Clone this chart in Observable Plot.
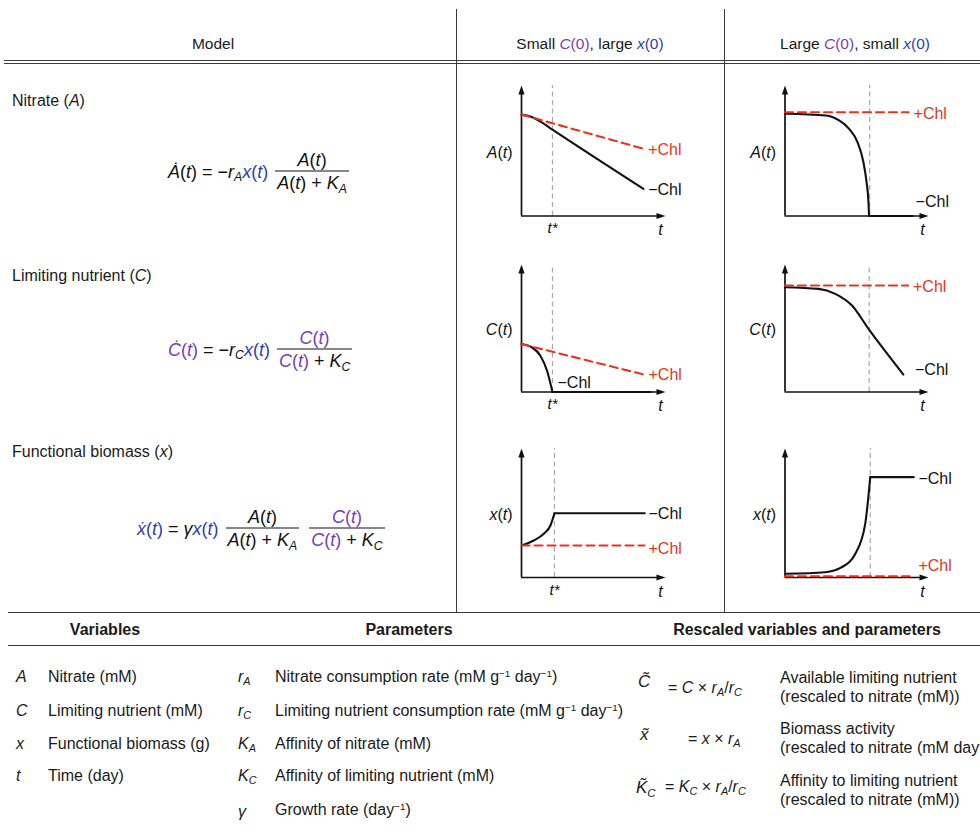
<!DOCTYPE html>
<html><head><meta charset="utf-8">
<script src="https://cdn.jsdelivr.net/npm/d3@7"></script>
<script src="https://cdn.jsdelivr.net/npm/@observablehq/plot@0.6"></script>
<style>
body{margin:0;background:#fff}
#fig{position:relative;width:980px;height:831px;overflow:hidden;font-family:"Liberation Sans",Arial,Helvetica,sans-serif;font-size:16px;color:#1a1a1a}
.t{position:absolute;white-space:nowrap;line-height:20px}
.hl{position:absolute;background:#3a3a3a;height:1.3px}
.vl{position:absolute;background:#3a3a3a;width:1.3px}
.eq{position:absolute;display:flex;align-items:center;font-size:18px;white-space:nowrap;line-height:22px;color:#111}
.frac{display:inline-flex;flex-direction:column;align-items:stretch;text-align:center;margin-left:7px}
.frac>span{padding:0 2px}
.frac>span:first-child{border-bottom:1.6px solid #111}
sub{font-size:0.68em;position:relative;top:0.32em;vertical-align:baseline;font-style:italic;line-height:0}
sup{font-size:0.62em;position:relative;top:-0.5em;vertical-align:baseline;line-height:0}
.pu{color:#7a3db5}.bl{color:#2f3fb1}
.panel{position:absolute}
.b{font-weight:bold}
</style>
</head><body>
<div id="fig"></div>
<script>
// ---------- data ----------
const columnHeaders = ["Model", "Small", "Large"];
const rowTitles = ["Nitrate", "Limiting nutrient", "Functional biomass"];
const rowSymbols = ["A", "C", "x"];

// curves read off the sketches: [t, value] on a 0–100 axis frame
// column "Small C(0), large x(0)"
const nitrateSmallNoChl = [[0,77.7],[6.3,76.2],[13.2,72.3],[21.5,66.2],[84.7,20.8]];
const nitrateSmallChl = [[0,77.7],[84.7,51.5]];
const limitingSmallNoChlDecline = [[0,37.6],[7.4,34.9],[13.2,28.3],[17.8,16.5],[21.5,0]];
const limitingSmallNoChlFloor = [[21.5,0],[89.6,0]];
const limitingSmallChl = [[0,37.6],[86.1,13.4]];
const biomassSmallNoChlRise = [[0.5,25],[8.5,28.7],[15.5,33.9],[20.1,40.3],[22.9,49.8]];
const biomassSmallNoChlPlateau = [[22.9,49.8],[85.6,49.8]];
const biomassSmallChl = [[0,24.8],[85.4,24.8]];
// column "Large C(0), small x(0)"
const nitrateLargeNoChlDecline = [[0,78.3],[28.5,77.0],[37.7,73.2],[44.7,66.8],[50.5,56.6],[54.4,42.5],[56.7,27.2],[58.1,11.9],[58.6,0]];
const nitrateLargeNoChlFloor = [[58.6,0],[88.9,0]];
const nitrateLargeChl = [[0,79.5],[86.1,79.5]];
const limitingLargeNoChl = [[0,82.2],[23.4,80.9],[35,77],[46.7,67.8],[58.2,49.5],[82.5,13.7]];
const limitingLargeChl = [[0,83.5],[85.8,83.5]];
const biomassLargeNoChlRise = [[0.5,2.9],[28,4.1],[39.6,8],[49,18.4],[55.9,41.6],[59.4,77.8]];
const biomassLargeNoChlPlateau = [[59.4,77.8],[89.7,77.8]];
const biomassLargeChl = [[0,1.0],[86.9,1.0]];

// switch times t* (dashed grey)
const tStarSmall = [21.5, 21.5, 22.9];
const tStarLarge = [59, 58.7, 59.4];

// curve labels [t, value, text]
const labelsSmall = [
  [[88,50.8,"+Chl"],[88,20,"\u2212Chl"]],
  [[88.2,13.4,"+Chl"],[25,7.1,"\u2212Chl"]],
  [[88.2,49.6,"\u2212Chl"],[88.2,22.5,"+Chl"]]
];
const labelsLarge = [
  [[89.6,78.5,"+Chl"],[91,11,"\u2212Chl"]],
  [[89.2,82.7,"+Chl"],[90.6,17.6,"\u2212Chl"]],
  [[93,76.7,"\u2212Chl"],[93,9.3,"+Chl"]]
];

const variables = [["A","Nitrate (mM)"],["C","Limiting nutrient (mM)"],["x","Functional biomass (g)"],["t","Time (day)"]];
const parameters = [
  ["r","A","Nitrate consumption rate (mM g<sup>\u22121</sup> day<sup>\u22121</sup>)"],
  ["r","C","Limiting nutrient consumption rate (mM g<sup>\u22121</sup> day<sup>\u22121</sup>)"],
  ["K","A","Affinity of nitrate (mM)"],
  ["K","C","Affinity of limiting nutrient (mM)"],
  ["\u03b3","","Growth rate (day<sup>\u22121</sup>)"]
];
const rescaled = [
  ["C","","= <i>C</i> \u00d7 <i>r<sub>A</sub></i>/<i>r<sub>C</sub></i>",["Available limiting nutrient","(rescaled to nitrate (mM))"]],
  ["x","","= <i>x</i> \u00d7 <i>r<sub>A</sub></i>",["Biomass activity","(rescaled to nitrate (mM day<sup>\u22121</sup>))"]],
  ["K","C","= <i>K<sub>C</sub></i> \u00d7 <i>r<sub>A</sub></i>/<i>r<sub>C</sub></i>",["Affinity to limiting nutrient","(rescaled to nitrate (mM))"]]
];

const RED = "#e8341c";
const fig = document.getElementById("fig");

function put(html, x, y, align = "left", cls = "t", extra = "") {
  const d = document.createElement("div");
  d.className = cls;
  d.innerHTML = html;
  const tx = align === "center" ? "-50%" : align === "right" ? "-100%" : "0";
  d.style.cssText += `left:${x}px;top:${y}px;transform:translate(${tx},-50%);${extra}`;
  fig.appendChild(d);
  return d;
}
function hline(x, y, w) { const d = document.createElement("div"); d.className = "hl"; d.style.left = x + "px"; d.style.top = y + "px"; d.style.width = w + "px"; fig.appendChild(d); }
function vline(x, y, h) { const d = document.createElement("div"); d.className = "vl"; d.style.left = x + "px"; d.style.top = y + "px"; d.style.height = h + "px"; fig.appendChild(d); }

// ---------- table frame ----------
vline(455.5, 9, 603);
vline(723.5, 9, 603);
hline(4, 60, 976);
hline(4, 63.2, 976);
hline(8, 612, 972);
hline(8, 645, 972);

put(columnHeaders[0], 213, 44, "center", "t", "font-size:15.5px");
put(`${columnHeaders[1]} <span class="pu"><i>C</i>(0)</span>, large <span class="bl"><i>x</i>(0)</span>`, 590, 44, "center", "t", "font-size:15.5px");
put(`${columnHeaders[2]} <span class="pu"><i>C</i>(0)</span>, small <span class="bl"><i>x</i>(0)</span>`, 855, 44, "center", "t", "font-size:15.5px");

put(`${rowTitles[0]} (<i>${rowSymbols[0]}</i>)`, 12, 101);
put(`${rowTitles[1]} (<i>${rowSymbols[1]}</i>)`, 12, 276);
put(`${rowTitles[2]} (<i>${rowSymbols[2]}</i>)`, 12, 452);

const At = `<i>A</i>(<i>t</i>)`;
const Ct = `<span class="pu"><i>C</i>(<i>t</i>)</span>`;
const xt = `<span class="bl"><i>x</i>(<i>t</i>)</span>`;
put(`<span><i>\u0226</i>(<i>t</i>) = \u2212<i>r</i><sub>A</sub>${xt}</span><span class="frac"><span>${At}</span><span>${At} + <i>K</i><sub>A</sub></span></span>`, 168, 171, "left", "eq");
put(`<span><span class="pu"><i>\u010a</i>(<i>t</i>)</span> = \u2212<i>r</i><sub>C</sub>${xt}</span><span class="frac"><span>${Ct}</span><span>${Ct} + <i>K</i><sub>C</sub></span></span>`, 168, 349, "left", "eq");
put(`<span><span class="bl"><i>\u1e8b</i>(<i>t</i>)</span> = <i>\u03b3</i>${xt}</span><span class="frac"><span>${At}</span><span>${At} + <i>K</i><sub>A</sub></span></span><span class="frac" style="margin-left:10px"><span>${Ct}</span><span>${Ct} + <i>K</i><sub>C</sub></span></span>`, 137, 528, "left", "eq");

// ---------- bottom table ----------
put("Variables", 105, 630, "center", "t b");
put("Parameters", 409, 630, "center", "t b");
put("Rescaled variables and parameters", 807, 630, "center", "t b");
const rowY = [677, 711, 744, 776, 810];
variables.forEach((v, i) => {
  put(`<i>${v[0]}</i>`, 16, rowY[i]);
  put(v[1], 48, rowY[i]);
});
parameters.forEach((p, i) => {
  put(`<i>${p[0]}</i>${p[1] ? `<sub>${p[1]}</sub>` : ""}`, 238, rowY[i] + (p[1] ? 0 : 2), "left", "t", "font-size:16px");
  put(p[2], 275, rowY[i]);
});
const resY = [[682, 688, 686.5], [735, 739, 737.5], [788, 787, 789.5]];
const resX = [[638, 668], [640, 688], [636, 665]];
rescaled.forEach((r, i) => {
  put(`<i>${r[0]}\u0303</i>${r[1] ? `<sub>${r[1]}</sub>` : ""}`, resX[i][0], resY[i][0], "left", "t", "font-size:17px;line-height:24px");
  put(r[2], resX[i][1], resY[i][1], "left", "t", "font-size:16px");
  put(r[3].join("<br>"), 780, resY[i][2], "left", "t", "line-height:19px");
});

// ---------- mini plots ----------
const arrowUp = {draw(ctx) { ctx.moveTo(0, -4.5); ctx.lineTo(3.1, 4.5); ctx.lineTo(-3.1, 4.5); ctx.closePath(); }};
const arrowRight = {draw(ctx) { ctx.moveTo(4.5, 0); ctx.lineTo(-4.5, 3.1); ctx.lineTo(-4.5, -3.1); ctx.closePath(); }};
const pts = (a) => a.map(([t, v]) => ({t, v}));

function miniPlot(cfg) {
  const marks = [
    Plot.ruleX([cfg.tStar], {y1: 0, y2: 100, stroke: "#a8a8a8", strokeWidth: 1.2, strokeDasharray: "5,3.5"}),
    Plot.ruleY([0], {x1: 0, x2: 97, stroke: "#111", strokeWidth: 1.7}),
    Plot.ruleX([0], {y1: 0, y2: 97, stroke: "#111", strokeWidth: 1.7}),
    Plot.dot([{t: 100, v: 0}], {x: "t", y: "v", dx: -4.5, symbol: arrowRight, fill: "#111", stroke: "none"}),
    Plot.dot([{t: 0, v: 100}], {x: "t", y: "v", dy: 4.5, symbol: arrowUp, fill: "#111", stroke: "none"})
  ];
  for (const s of cfg.black) {
    marks.push(Plot.line(pts(s.data), {x: "t", y: "v", curve: s.curve, stroke: "#111", strokeWidth: 2.1}));
  }
  marks.push(Plot.line(pts(cfg.red), {x: "t", y: "v", stroke: RED, strokeWidth: 2.1, strokeDasharray: "8,5"}));
  const labs = cfg.labels.map(([t, v, label]) => ({t, v, label}));
  marks.push(Plot.text(labs.filter(d => d.label === "+Chl"), {x: "t", y: "v", text: "label", fill: RED, textAnchor: "start", fontSize: 16}));
  marks.push(Plot.text(labs.filter(d => d.label !== "+Chl"), {x: "t", y: "v", text: "label", fill: "#111", textAnchor: "start", fontSize: 16}));
  marks.push(Plot.text([cfg.ylabel], {frameAnchor: "left", dx: -9, dy: 2, textAnchor: "end", fontSize: 16, fill: "#111"}));
  marks.push(Plot.text(["t"], {x: cfg.tLabel, y: 0, dy: 14, fontSize: 16, fontStyle: "italic", fill: "#111"}));
  if (cfg.star) marks.push(Plot.text(["t*"], {x: cfg.tStar, y: 0, dy: 12.5, fontSize: 15, fontStyle: "italic", fill: "#111"}));
  const svg = Plot.plot({
    width: cfg.width, height: cfg.height,
    marginLeft: cfg.ml, marginRight: cfg.mr, marginTop: cfg.mt, marginBottom: cfg.mb,
    x: {domain: [0, 100], axis: null},
    y: {domain: [0, 100], axis: null},
    style: {fontFamily: '"Liberation Sans", Arial, sans-serif', fontSize: "16px", overflow: "visible", background: "transparent"},
    marks
  });
  svg.querySelectorAll("text").forEach(el => {
    const m = el.textContent.match(/^([AxC])\(t\)$/);
    if (m) el.innerHTML = `<tspan font-style="italic">${m[1]}</tspan>(<tspan font-style="italic">t</tspan>)`;
  });
  svg.classList.add("panel");
  svg.style.left = cfg.left + "px";
  svg.style.top = cfg.top + "px";
  svg.style.position = "absolute";
  fig.appendChild(svg);
}

const rowGeo = [{top: 75, height: 170, mt: 10, mb: 29.5}, {top: 254, height: 170, mt: 10, mb: 32.5}, {top: 438, height: 170, mt: 10, mb: 31}];
const colGeo = [{left: 460, width: 250, ml: 61, mr: 45, tLabel: 96.5, star: true}, {left: 726, width: 254, ml: 58.5, mr: 52, tLabel: 95.8, star: false}];
const ylabels = ["A(t)", "C(t)", "x(t)"];
const smallSeries = [
  {black: [{data: nitrateSmallNoChl, curve: "monotone-x"}], red: nitrateSmallChl},
  {black: [{data: limitingSmallNoChlDecline, curve: "monotone-x"}, {data: limitingSmallNoChlFloor, curve: "linear"}], red: limitingSmallChl},
  {black: [{data: biomassSmallNoChlRise, curve: "monotone-x"}, {data: biomassSmallNoChlPlateau, curve: "linear"}], red: biomassSmallChl}
];
const largeSeries = [
  {black: [{data: nitrateLargeNoChlDecline, curve: "monotone-x"}, {data: nitrateLargeNoChlFloor, curve: "linear"}], red: nitrateLargeChl},
  {black: [{data: limitingLargeNoChl, curve: "monotone-x"}], red: limitingLargeChl},
  {black: [{data: biomassLargeNoChlRise, curve: "monotone-x"}, {data: biomassLargeNoChlPlateau, curve: "linear"}], red: biomassLargeChl}
];
for (let r = 0; r < 3; r++) {
  miniPlot({...rowGeo[r], ...colGeo[0], ...smallSeries[r], tStar: tStarSmall[r], labels: labelsSmall[r], ylabel: ylabels[r]});
  miniPlot({...rowGeo[r], ...colGeo[1], ...largeSeries[r], tStar: tStarLarge[r], labels: labelsLarge[r], ylabel: ylabels[r]});
}
</script>
</body></html>
